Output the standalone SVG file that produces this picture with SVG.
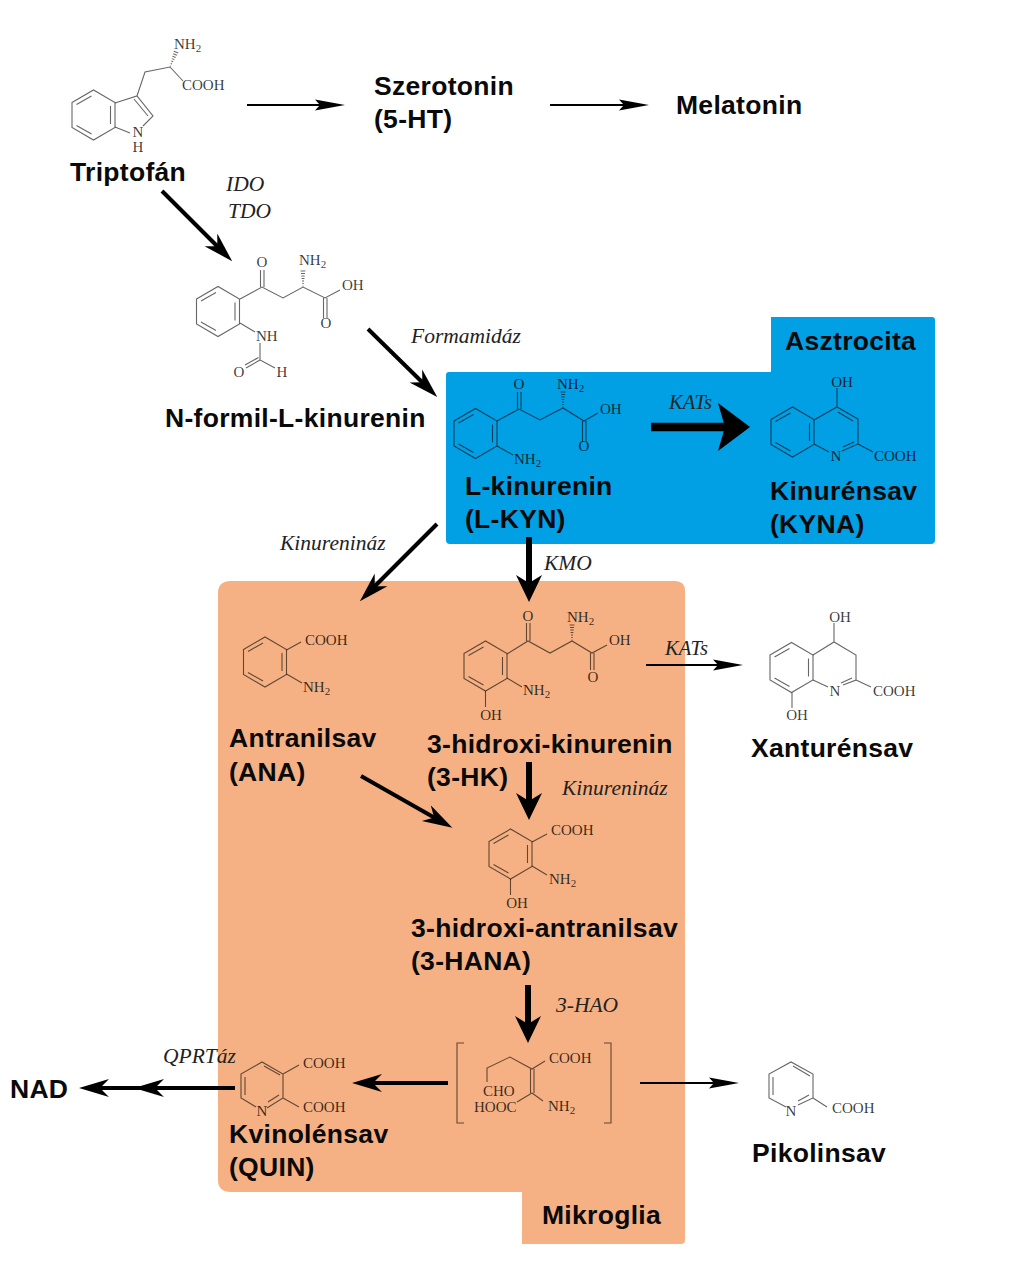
<svg xmlns="http://www.w3.org/2000/svg" width="1024" height="1280" viewBox="0 0 1024 1280">
<style>
.lab{font-family:"Liberation Sans",Arial,sans-serif;font-weight:700;font-size:26.5px;letter-spacing:.3px;fill:#0a0a0a}
.enz{font-family:"Liberation Serif","Times New Roman",serif;font-style:italic;font-size:21.5px;fill:#222}
.kats{font-size:20.5px}
.at{font-family:"Liberation Serif","Times New Roman",serif;font-size:15px;fill:#000;fill-opacity:.78}
.sub{font-size:11px}
.mid{text-anchor:middle}
.bd{fill:none;stroke:#000;stroke-opacity:.6;stroke-width:1.1}
.hs{fill:none;stroke:#000;stroke-opacity:.6;stroke-width:1}
.c2{fill:none;stroke:#000;stroke-width:2}
.c4{fill:none;stroke:#000;stroke-width:4}
.c6{fill:none;stroke:#000;stroke-width:6}
.c8{fill:none;stroke:#000;stroke-width:8.5}
.a2{marker-end:url(#m2)}
.a4{marker-end:url(#m4)}
.a6{marker-end:url(#m6)}
.a8{marker-end:url(#m8)}
</style>
<defs>
<marker id="m2" markerUnits="userSpaceOnUse" markerWidth="34" markerHeight="14" refX="8" refY="7" orient="auto"><path d="M0 1.500L30 7L0 12.500L5 7Z"/></marker>
<marker id="m4" markerUnits="userSpaceOnUse" markerWidth="34" markerHeight="24" refX="10" refY="12" orient="auto"><path d="M0 3L30 12L0 21L9 12Z"/></marker>
<marker id="m6" markerUnits="userSpaceOnUse" markerWidth="34" markerHeight="32" refX="10" refY="16" orient="auto"><path d="M0 3L27 16L0 29L8 16Z"/></marker>
<marker id="m8" markerUnits="userSpaceOnUse" markerWidth="40" markerHeight="54" refX="12" refY="27" orient="auto"><path d="M0 3L32 27L0 51L7 27Z"/></marker>
<path id="benz" d="M-21.500-12.500L0-25L21.500-12.500V12.500L0 25L-21.500 12.500ZM-17-10.500L-2-19M17-9V9M-17 10.500L-2 19"/>
<path id="hash" d="M-.4-1H.4M-.7-3.500H.7M-1-6H1M-1.400-8.500H1.400M-1.700-11H1.700M-2-13.500H2M-2.400-16H2.400"/>
</defs>

<g id="panels">
<path id="asztrocita-panel" d="M449 372H771V317H932Q935 317 935 320V540Q935 544 931 544H450Q446 544 446 540V375Q446 372 449 372Z" fill="#019FE3"/>
<path id="mikroglia-panel" d="M231 581H675Q685 581 685 591V1240Q685 1244 681 1244H522V1192H231Q218 1192 218 1180V593Q218 581 231 581Z" fill="#F5B183"/>
</g>

<g id="connectors">
<path class="c2 a2" d="M247 105H323"/>
<path class="c2 a2" d="M550 105H627"/>
<path class="c4 a4" d="M162 191L218 247"/>
<path class="c4 a4" d="M368 329L423 383"/>
<path class="c8 a8" d="M651 427H730"/>
<path class="c4 a4" d="M437 524L374 587"/>
<path class="c6 a6" d="M529 537V585"/>
<path class="c2 a2" d="M646 665H721"/>
<path class="c6 a6" d="M529 762V803"/>
<path class="c4 a4" d="M361 776L435 818"/>
<path class="c6 a6" d="M528 985V1026"/>
<path class="c4 a4" d="M448 1083H372"/>
<path class="c2 a2" d="M640 1083H717"/>
<path class="c4 a4" d="M235 1088H154"/>
<path class="c4 a4" d="M160 1088H99"/>
</g>

<g id="triptofan">
<use class="bd" href="#benz" x="93.500" y="115"/>
<path class="bd" d="M115 103L137 96L153 116L143 126M130 133L115 127M134 99L148 116M137 96L145 72L170 67L183 81"/>
<use class="hs" href="#hash" transform="translate(170 67) rotate(22)"/>
<text class="at" x="174" y="49">NH<tspan class="sub" dy="3">2</tspan></text>
<text class="at" x="182" y="90">COOH</text>
<text class="at mid" x="138" y="137">N</text>
<text class="at mid" x="138" y="152">H</text>
<text class="lab" x="70" y="181">Triptofán</text>
</g>

<g id="szerotonin">
<text class="lab" x="374" y="95">Szerotonin</text>
<text class="lab" x="374" y="128">(5-HT)</text>
</g>
<g id="melatonin"><text class="lab" x="676" y="114">Melatonin</text></g>

<g id="n-formil-l-kinurenin">
<use class="bd" href="#benz" x="218" y="311.500"/>
<path class="bd" d="M240 299L262 287L283 298L303 287L325 298L340 290M260.500 287V270M264 287V270M323.500 298V318M327 298V318M240 323L255 332M260 343V360L275 368M260 360L246 368M258.500 357.500L245 365"/>
<use class="hs" href="#hash" transform="translate(303 287)"/>
<text class="at mid" x="262" y="267">O</text>
<text class="at" x="299" y="265">NH<tspan class="sub" dy="3">2</tspan></text>
<text class="at" x="342" y="290">OH</text>
<text class="at mid" x="326" y="328">O</text>
<text class="at" x="256" y="341">NH</text>
<text class="at mid" x="239" y="377">O</text>
<text class="at mid" x="282" y="377">H</text>
<text class="lab" x="165" y="427">N-formil-L-kinurenin</text>
</g>

<g id="l-kinurenin">
<use class="bd" href="#benz" x="475.500" y="433.500"/>
<path class="bd" d="M497 421L519 409L540 420L563 408L584 421L598 413M517.500 409V392M521 409V392M582.500 421V442M586 421V442M497 446L513 455"/>
<use class="hs" href="#hash" transform="translate(563 408)"/>
<text class="at mid" x="519" y="389">O</text>
<text class="at" x="557" y="389">NH<tspan class="sub" dy="3">2</tspan></text>
<text class="at" x="600" y="414">OH</text>
<text class="at mid" x="584" y="451">O</text>
<text class="at" x="514" y="464">NH<tspan class="sub" dy="3">2</tspan></text>
<text class="lab" x="465" y="495">L-kinurenin</text>
<text class="lab" x="465" y="528">(L-KYN)</text>
</g>

<g id="kinurensav">
<use class="bd" href="#benz" x="792.500" y="432"/>
<path class="bd" d="M814 420L837 407L858 419V444L842 451M814 444L829 452M838 412L853 421M854 442L843 447M837 407V388M858 444L873 452"/>
<text class="at mid" x="842" y="387">OH</text>
<text class="at mid" x="836" y="461">N</text>
<text class="at" x="874" y="461">COOH</text>
<text class="lab" x="770" y="500">Kinurénsav</text>
<text class="lab" x="770" y="533">(KYNA)</text>
</g>
<g id="asztrocita"><text class="lab" x="785" y="350">Asztrocita</text></g>

<g id="antranilsav">
<use class="bd" href="#benz" x="265" y="662"/>
<path class="bd" d="M286.500 650L301 642M286.500 674L302 683"/>
<text class="at" x="305" y="645">COOH</text>
<text class="at" x="303" y="692">NH<tspan class="sub" dy="3">2</tspan></text>
<text class="lab" x="229" y="747">Antranilsav</text>
<text class="lab" x="229" y="781">(ANA)</text>
</g>

<g id="hidroxi-kinurenin">
<use class="bd" href="#benz" x="485.500" y="666"/>
<path class="bd" d="M507 654L528 641L550 653L572 641L592 653L607 645M526.500 641V623M530 641V623M590.500 653V670M594 653V670M507 678L522 687M485.500 691V707"/>
<use class="hs" href="#hash" transform="translate(572 641)"/>
<text class="at mid" x="528" y="621">O</text>
<text class="at" x="567" y="622">NH<tspan class="sub" dy="3">2</tspan></text>
<text class="at" x="609" y="645">OH</text>
<text class="at mid" x="593" y="682">O</text>
<text class="at" x="523" y="695">NH<tspan class="sub" dy="3">2</tspan></text>
<text class="at mid" x="491" y="720">OH</text>
<text class="lab" x="427" y="753">3-hidroxi-kinurenin</text>
<text class="lab" x="427" y="786">(3-HK)</text>
</g>

<g id="xanturensav">
<use class="bd" href="#benz" x="791.500" y="667.500"/>
<path class="bd" d="M813 655L834 642L856 655V680L843 685M813 680L828 687M852 678L841 683M834 642V623M792 692.500V708M856 680L871 687"/>
<text class="at mid" x="840" y="622">OH</text>
<text class="at mid" x="835" y="696">N</text>
<text class="at" x="873" y="696">COOH</text>
<text class="at mid" x="797" y="720">OH</text>
<text class="lab" x="751" y="757">Xanturénsav</text>
</g>

<g id="hidroxi-antranilsav">
<use class="bd" href="#benz" x="510.500" y="854"/>
<path class="bd" d="M532 842L547 834M532 866L547 875M510.500 879V895"/>
<text class="at" x="551" y="835">COOH</text>
<text class="at" x="549" y="884">NH<tspan class="sub" dy="3">2</tspan></text>
<text class="at mid" x="517" y="908">OH</text>
<text class="lab" x="411" y="937">3-hidroxi-antranilsav</text>
<text class="lab" x="411" y="970">(3-HANA)</text>
</g>

<g id="intermedier">
<path class="bd" d="M464 1043H457V1123H464M604 1043H611V1123H604"/>
<path class="bd" d="M487 1082V1068L510 1057L532 1069L545 1061M530.500 1069V1093M534 1069V1093M532 1093L543 1101M532 1093L517 1102"/>
<text class="at" x="549" y="1063">COOH</text>
<text class="at" x="483" y="1096">CHO</text>
<text class="at" x="474" y="1112">HOOC</text>
<text class="at" x="548" y="1111">NH<tspan class="sub" dy="3">2</tspan></text>
</g>

<g id="kvinolensav">
<path class="bd" d="M267 1108L283 1098V1074L262 1062L241 1074V1098L256 1107M245 1077V1095M264 1066L280 1075M279 1095L268 1102M283 1074L299 1065M283 1098L299 1107"/>
<text class="at" x="303" y="1068">COOH</text>
<text class="at" x="303" y="1112">COOH</text>
<text class="at mid" x="262" y="1116">N</text>
<text class="lab" x="229" y="1143">Kvinolénsav</text>
<text class="lab" x="229" y="1176">(QUIN)</text>
</g>

<g id="pikolinsav">
<path class="bd" d="M798 1105L813 1098V1074L791 1062L769 1074V1098L786 1107M773 1077V1095M793 1066L810 1076M809 1095L798 1101M813 1098L827 1107"/>
<text class="at" x="832" y="1113">COOH</text>
<text class="at mid" x="791" y="1116">N</text>
<text class="lab" x="752" y="1162">Pikolinsav</text>
</g>

<g id="nad"><text class="lab" x="10" y="1098">NAD</text></g>
<g id="mikroglia"><text class="lab" x="542" y="1224">Mikroglia</text></g>

<g id="enzymes">
<text class="enz" x="226" y="191">IDO</text>
<text class="enz" x="228" y="218">TDO</text>
<text class="enz" x="411" y="343">Formamidáz</text>
<text class="enz kats" x="669" y="409">KATs</text>
<text class="enz" x="280" y="550">Kinurenináz</text>
<text class="enz" x="544" y="570">KMO</text>
<text class="enz kats" x="665" y="655">KATs</text>
<text class="enz" x="562" y="795">Kinurenináz</text>
<text class="enz" x="556" y="1012">3-HAO</text>
<text class="enz" x="163" y="1063">QPRTáz</text>
</g>
</svg>
